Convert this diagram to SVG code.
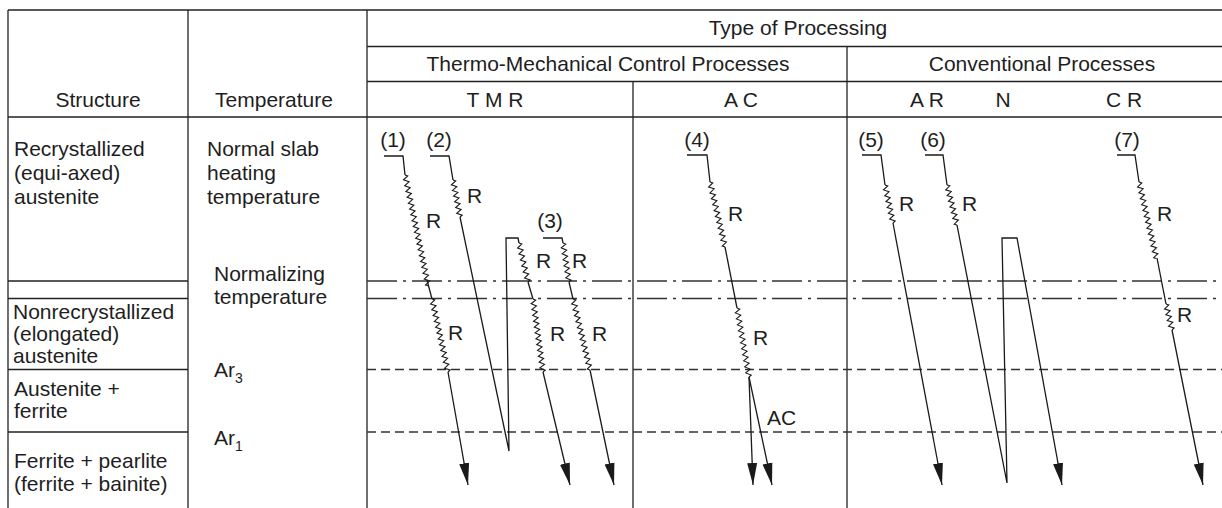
<svg xmlns="http://www.w3.org/2000/svg" xmlns:xlink="http://www.w3.org/1999/xlink" width="1222" height="508" viewBox="0 0 1222 508">
<style>
text{font-family:"Liberation Sans",Arial,sans-serif;font-size:21px;fill:#1e1e1e}
.c{text-anchor:middle}
.g{stroke:#222;stroke-width:1.3;fill:none}
.dd{stroke:#333;stroke-width:1.3;fill:none;stroke-dasharray:30 6 3 6}
.ds{stroke:#333;stroke-width:1.3;fill:none;stroke-dasharray:9 5}
.ln{stroke:#1a1a1a;stroke-width:1.3;fill:none;stroke-linejoin:miter}
.zz{stroke:#1a1a1a;stroke-width:1.1;fill:none;vector-effect:non-scaling-stroke}
.ar{marker-end:url(#ah)}
</style>
<defs>
<marker id="ah" markerUnits="userSpaceOnUse" markerWidth="24" markerHeight="12" refX="22" refY="6" orient="auto" viewBox="0 0 24 12"><path d="M0 1L22 6L0 11z" fill="#1a1a1a"/></marker>
<path id="z9" class="zz" d="M0 0l1.5-2.5l3 5l3-5l3 5l3-5l3 5l3-5l3 5l3-5l1.5 2.5"/>
<path id="z13" class="zz" d="M0 0l1.5-2.5l3 5l3-5l3 5l3-5l3 5l3-5l3 5l3-5l3 5l3-5l3 5l3-5l1.5 2.5"/>
<path id="z14" class="zz" d="M0 0l1.5-2.5l3 5l3-5l3 5l3-5l3 5l3-5l3 5l3-5l3 5l3-5l3 5l3-5l3 5l1.5-2.5"/>
<path id="z22" class="zz" d="M0 0l1.5-2.5l3 5l3-5l3 5l3-5l3 5l3-5l3 5l3-5l3 5l3-5l3 5l3-5l3 5l3-5l3 5l3-5l3 5l3-5l3 5l3-5l3 5l1.5-2.5"/>
<path id="z23" class="zz" d="M0 0l1.5-2.5l3 5l3-5l3 5l3-5l3 5l3-5l3 5l3-5l3 5l3-5l3 5l3-5l3 5l3-5l3 5l3-5l3 5l3-5l3 5l3-5l3 5l3-5l1.5 2.5"/>
<path id="z24" class="zz" d="M0 0l1.5-2.5l3 5l3-5l3 5l3-5l3 5l3-5l3 5l3-5l3 5l3-5l3 5l3-5l3 5l3-5l3 5l3-5l3 5l3-5l3 5l3-5l3 5l3-5l3 5l1.5-2.5"/>
<path id="z25" class="zz" d="M0 0l1.5-2.5l3 5l3-5l3 5l3-5l3 5l3-5l3 5l3-5l3 5l3-5l3 5l3-5l3 5l3-5l3 5l3-5l3 5l3-5l3 5l3-5l3 5l3-5l3 5l3-5l1.5 2.5"/>
<path id="z26" class="zz" d="M0 0l1.5-2.5l3 5l3-5l3 5l3-5l3 5l3-5l3 5l3-5l3 5l3-5l3 5l3-5l3 5l3-5l3 5l3-5l3 5l3-5l3 5l3-5l3 5l3-5l3 5l3-5l3 5l1.5-2.5"/>
<path id="z36" class="zz" d="M0 0l1.5-2.5l3 5l3-5l3 5l3-5l3 5l3-5l3 5l3-5l3 5l3-5l3 5l3-5l3 5l3-5l3 5l3-5l3 5l3-5l3 5l3-5l3 5l3-5l3 5l3-5l3 5l3-5l3 5l3-5l3 5l3-5l3 5l3-5l3 5l3-5l3 5l3-5l3 5l1.5-2.5"/>
</defs>
<rect width="1222" height="508" fill="#fff"/>

<g id="table-grid">
<path class="g" d="M8 10H1222M367 46.5H1222M367 81.5H1222M8 117H1222M8 10V508M188 10V508M367 10V508M633 81.5V508M847 46.5V508M8 281H188M8 298.5H188M8 369.5H188M8 432H188"/>
</g>

<g id="level-lines">
<path class="dd" d="M367 281H1222M367 298.5H1222"/>
<path class="ds" d="M367 369.5H1222M367 432H1222"/>
</g>

<g id="header">
<text class="c" x="798" y="35">Type of Processing</text>
<text class="c" x="608" y="71">Thermo-Mechanical Control Processes</text>
<text class="c" x="1042" y="71">Conventional Processes</text>
<text class="c" x="98" y="107">Structure</text>
<text class="c" x="274" y="107">Temperature</text>
<text class="c" x="495" y="106.5">T M R</text>
<text class="c" x="741" y="106.5">A C</text>
<text class="c" x="927" y="106.5">A R</text>
<text class="c" x="1003" y="106.5">N</text>
<text class="c" x="1124" y="106.5">C R</text>
</g>

<g id="structure-labels">
<text x="14" y="156">Recrystallized</text>
<text x="14" y="180">(equi-axed)</text>
<text x="14" y="204">austenite</text>
<text x="13" y="319">Nonrecrystallized</text>
<text x="13" y="341">(elongated)</text>
<text x="13" y="363">austenite</text>
<text x="14" y="396">Austenite +</text>
<text x="14" y="418">ferrite</text>
<text x="14" y="468">Ferrite + pearlite</text>
<text x="14" y="491">(ferrite + bainite)</text>
</g>

<g id="temperature-labels">
<text x="207" y="156">Normal slab</text>
<text x="207" y="180">heating</text>
<text x="207" y="204">temperature</text>
<text x="214" y="281">Normalizing</text>
<text x="214" y="304">temperature</text>
<text x="214" y="377">Ar<tspan font-size="14" dy="6">3</tspan></text>
<text x="214" y="445">Ar<tspan font-size="14" dy="6">1</tspan></text>
</g>

<g id="connectors">
<g id="path1">
<path class="ln" d="M384 156H403L405 175"/>
<use href="#z36" xlink:href="#z36" transform="translate(405 175) rotate(78.17) scale(0.9935 1)"/>
<path class="ln" d="M427 280L432 299"/>
<use href="#z25" xlink:href="#z25" transform="translate(432 299) rotate(77.64) scale(0.9964 1)"/>
<path class="ln ar" d="M448 372L468 485"/>
</g>
<g id="path2">
<path class="ln" d="M430 156H449L453 180"/>
<use href="#z13" xlink:href="#z13" transform="translate(453 180) rotate(79.29) scale(0.966 1)"/>
<path class="ln" d="M460 217L509 451L506 238H518L519 243"/>
<use href="#z13" xlink:href="#z13" transform="translate(519 243) rotate(77.0) scale(1.026 1)"/>
<path class="ln" d="M528 282L533 299"/>
<use href="#z25" xlink:href="#z25" transform="translate(533 299) rotate(82.2) scale(0.982 1)"/>
<path class="ln ar" d="M543 372L570 485"/>
</g>
<g id="path3">
<path class="ln" d="M543 238H562L563 243"/>
<use href="#z13" xlink:href="#z13" transform="translate(563 243) rotate(81.25) scale(1.012 1)"/>
<path class="ln" d="M569 282L573 299"/>
<use href="#z24" xlink:href="#z24" transform="translate(573 299) rotate(76.53) scale(1.014 1)"/>
<path class="ln ar" d="M590 370L614 485"/>
</g>
<g id="path4">
<path class="ln" d="M687 155H707L710 182"/>
<use href="#z22" xlink:href="#z22" transform="translate(710 182) rotate(77.0) scale(1.011 1)"/>
<path class="ln" d="M725 247L737 308"/>
<use href="#z23" xlink:href="#z23" transform="translate(737 308) rotate(80.13) scale(1.015 1)"/>
<path class="ln ar" d="M749 377L753 485"/>
<path class="ln ar" d="M749 377L772 485"/>
</g>
<g id="path5">
<path class="ln" d="M862 155H881L885 185"/>
<use href="#z13" xlink:href="#z13" transform="translate(885 185) rotate(78.1) scale(0.995 1)"/>
<path class="ln ar" d="M893 223L942 485"/>
</g>
<g id="path6">
<path class="ln" d="M925 155H943L947 185"/>
<use href="#z14" xlink:href="#z14" transform="translate(947 185) rotate(75.96) scale(0.982 1)"/>
<path class="ln ar" d="M957 225L1007 483L1002 238H1017L1062 485"/>
</g>
<g id="path7">
<path class="ln" d="M1117 155H1135L1139 182"/>
<use href="#z26" xlink:href="#z26" transform="translate(1139 182) rotate(77.2) scale(1.007 1)"/>
<path class="ln" d="M1157 258L1166 304"/>
<use href="#z9" xlink:href="#z9" transform="translate(1166 304) rotate(77.0) scale(0.988 1)"/>
<path class="ln ar" d="M1172 330L1203 485"/>
</g>
</g>

<g id="path-labels">
<text class="c" x="393" y="147">(1)</text>
<text class="c" x="439" y="147">(2)</text>
<text class="c" x="550" y="228">(3)</text>
<text class="c" x="697" y="147">(4)</text>
<text class="c" x="871" y="147">(5)</text>
<text class="c" x="933" y="147">(6)</text>
<text class="c" x="1127" y="147">(7)</text>
<text x="426" y="228">R</text>
<text x="448" y="340">R</text>
<text x="467" y="203">R</text>
<text x="536" y="268">R</text>
<text x="550" y="341">R</text>
<text x="572" y="268">R</text>
<text x="592" y="341">R</text>
<text x="728" y="221">R</text>
<text x="753" y="345">R</text>
<text x="767" y="425">AC</text>
<text x="899" y="211">R</text>
<text x="962" y="211">R</text>
<text x="1157" y="221">R</text>
<text x="1177" y="322">R</text>
</g>
</svg>
